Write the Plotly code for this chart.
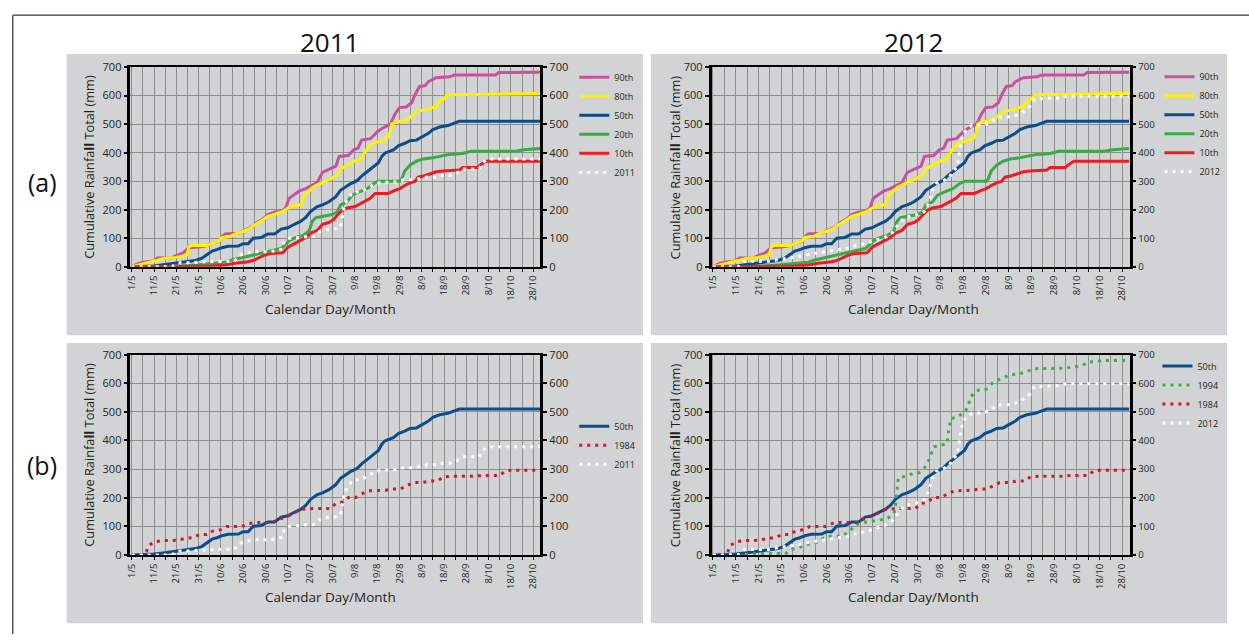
import plotly.graph_objects as go

W, H = 1249, 641

# ---------------- data ----------------
tick_days = list(range(0, 181, 5))
tick_labels = ["1/5", "", "11/5", "", "21/5", "", "31/5", "", "10/6", "", "20/6", "",
               "30/6", "", "10/7", "", "20/7", "", "30/7", "", "9/8", "", "19/8", "",
               "29/8", "", "8/9", "", "18/9", "", "28/9", "", "8/10", "", "18/10", "", "28/10"]

p90_day = [0, 3, 6, 10, 11.5, 18, 20, 22.5, 24, 25.5, 30, 33, 36, 39, 40.5, 42, 48, 50, 52, 54.5,
           56.5, 59, 61, 64, 67, 69, 70.5, 72, 75, 78, 80.5, 83, 85.5, 88.5, 91.5, 93, 97, 99.5,
           101.5, 103, 107, 110, 112, 116, 118, 120, 123, 125.5, 127, 129, 131.5, 133, 136.5,
           142.5, 144.5, 163, 164.5, 183]
p90_mm = [0, 12, 17, 20, 31, 32, 39, 47, 55, 67, 69, 73, 81, 89, 106, 115, 118, 126, 134, 143,
          157, 169, 183, 191, 194, 206, 240, 248, 265, 274, 285, 294, 331, 342, 353, 387, 390, 410,
          416, 444, 449, 473, 484, 501, 535, 558, 560, 575, 603, 632, 635, 649, 663,
          666, 672, 672, 681, 682]

p80_day = [0, 3.4, 6.4, 9.3, 11.5, 15, 19.7, 22.6, 24.8, 25.6, 27, 33.7, 36, 39, 40.4, 44, 46.3,
           48.5, 50.7, 53, 54.4, 56.6, 58.9, 61, 64, 67, 70, 73.6, 76, 77.3, 79.5, 81, 83.2, 85.5,
           89.2, 92.1, 93.6, 96.6, 99.5, 102.5, 104.7, 106.2, 109.1, 112.1, 114.3, 115.8, 116.5,
           119.5, 123.2, 124.7, 126.2, 128.4, 132.1, 134.3, 136.5, 138, 140.2, 141.7, 183]
p80_mm = [0, 7, 12.5, 18, 24, 30, 33, 37.5, 41, 69, 75, 75, 81, 90, 103, 106, 115,
          120, 126, 135, 143, 155, 166, 177, 183, 191, 206, 217, 217, 251, 266, 278, 287, 294,
          308, 322, 342, 356, 370, 376, 405, 422, 435, 444, 449, 469, 501,
          509, 513, 524, 535, 547, 549, 558, 560, 581, 590, 603, 607]

p50_day = [0, 10, 14, 19.7, 24, 28.5, 31.5, 33.7, 36, 38.2, 40.4, 43.3, 47.8, 50, 52.2, 54.4, 58.1,
           61, 64, 67, 70, 72.9, 75.9, 78.1, 80.3, 83.2, 85.5, 88.4, 91.4, 93.6, 95.8, 98, 101,
           103.2, 105.5, 108.4, 110.6, 112.1, 113.6, 117.3, 119.5, 122.4, 124.7, 127.6, 130.6,
           132.8, 135, 138, 141.7, 144.6, 146.8, 183]
p50_mm = [0, 3, 7, 12.5, 18, 22, 30, 41, 55, 60, 67, 72, 73, 81, 81, 100, 103,
          115, 115, 132, 137, 149, 160, 174, 195, 211, 217, 228, 245, 268, 280, 291, 302,
          319, 333, 353, 365, 387, 399, 410, 424, 433, 442, 444, 456,
          467, 481, 490, 495, 503, 510, 510]

p20_day = [0, 20, 30, 36, 41.9, 44.8, 49.2, 52.2, 56.6, 61, 64, 67, 68.5, 70.7, 73.6, 76.6, 79.5,
           81, 82.5, 86.2, 89.9, 92.1, 93.6, 96.6, 98.8, 101.7, 105.5, 108.4, 110.6, 120.2, 121,
           122.4, 124.7, 127.6, 130.6, 135, 139.5, 142.4, 148.3, 152, 172, 176, 183]
p20_mm = [0, 1, 7, 12.5, 16, 24, 32, 37.5, 47, 55, 60, 64, 75, 92, 103, 109, 126,
          160, 172, 177, 183, 192, 217, 228, 251, 262, 274, 291, 300, 300, 308,
          336, 356, 370, 378, 382, 390, 394, 397, 405, 405, 410, 415]

p10_day = [0, 30, 36, 41.9, 46.3, 52.2, 54.4, 56.6, 59.6, 62.6, 67.7, 70, 72.9, 75.9, 78.1, 80.3,
           83.2, 85.5, 88.4, 90.6, 92.1, 94.3, 96.6, 100.2, 103.2, 106.9, 109.1, 115, 118, 120.2,
           122.4, 124.7, 126.9, 128.4, 131.3, 133.5, 136.5, 139.5, 146.8, 148.3, 155, 156.5,
           158.7, 183]
p10_mm = [0, 1, 3, 6, 12.5, 18, 22, 30, 41, 47, 49, 69, 81, 92, 103, 118,
          128, 149, 155, 166, 181, 198, 206, 211, 223, 240, 257, 257, 268, 274,
          285, 294, 299, 314, 319, 325, 333, 336, 339, 348, 348, 359,
          370, 370]

y2011_day = [0, 18, 20.6, 27, 31, 42.8, 46, 48.6, 51, 54.4, 61.8, 65, 67.5, 68.4, 70.8, 78, 81.5,
             84, 87.3, 90.6, 93.6, 94.2, 95.5, 97.2, 98.8, 103, 105.4, 108, 111, 118.6, 122,
             125.2, 129.3, 132.6, 136, 139.2, 142.5, 145.8, 149, 155.7, 157.3, 159.8, 183]
y2011_mm = [0, 0, 14, 14, 17, 19, 20, 40, 48, 53, 53, 57, 62, 91, 100, 105, 106,
            123, 131, 131, 139, 165, 222, 239, 261, 263, 275, 286, 295, 298, 305,
            305, 309, 315, 315, 320, 320, 330, 343, 343, 366, 378, 378]

y2012_day = [0, 11, 13.7, 24.5, 28.6, 34.4, 37.7, 41, 45.2, 49.3, 54.3, 59.3, 63.4, 67.5, 71.7,
             75.8, 79.1, 81.6, 84.1, 87.4, 90.7, 93.2, 94.9, 96.5, 98.2, 101.5, 104, 105.6,
             107.3, 108.1, 108.9, 109.8, 111.4, 113.9, 118.9, 122.2, 124.7, 128, 131.3, 134.6,
             137.1, 139.6, 141.2, 145.4, 152, 155.3, 183]
y2012_mm = [0, 0, 19, 19, 25, 31, 36, 42, 48, 53, 59, 65, 76, 82, 93,
            104, 121, 150, 172, 178, 184, 195, 224, 269, 292, 303, 314, 337,
            348, 382, 428, 467, 479, 496, 496, 507, 524, 526, 526, 535,
            547, 564, 587, 590, 592, 598, 598]

y1994_day = [0, 10.4, 14.5, 21, 32, 34.4, 37.7, 41, 44.3, 47.6, 50, 56.7, 60, 62.5, 66.6, 73.2,
             76.5, 79, 79.8, 80.3, 80.7, 81, 81.5, 84.8, 88.1, 90.6, 93, 94.7, 95.9, 97.2, 100.5,
             103, 103.3, 103.8, 104.6, 107.1, 109.6, 112.1, 112.9, 114.5, 117, 120.3, 122.8,
             125.3, 127.8, 131.1, 134.4, 137.7, 141, 150.9, 155, 158.3, 161.7, 165, 169, 172.4, 183]
y1994_mm = [0, 0, 2, 5, 5, 19, 25, 36, 39, 53, 65, 65, 82, 105, 114, 122,
            127, 139, 150, 173, 213, 247, 270, 275, 285, 287, 304, 327, 349, 378, 384,
            389, 418, 446, 477, 480, 494, 514, 543, 566, 577, 580, 600,
            611, 619, 631, 632, 640, 651, 651, 653, 657, 660, 674, 676, 680, 680]

y1984_day = [0, 5, 6.3, 7.6, 10.4, 13.7, 20.3, 23.6, 27.8, 30.2, 33.6, 36.5, 39.8, 42.6, 49.3,
             52.6, 55.9, 63.3, 65.8, 69.1, 72.4, 75.7, 81.5, 88.9, 91.4, 94.2, 97.2, 100.5, 103,
             106.3, 113.7, 117, 120.3, 123.3, 126.1, 130.2, 133.6, 136.9, 139.7, 143.5, 153.4,
             157.5, 165, 167.4, 169.9, 183]
y1984_mm = [0, 0, 6, 33, 46, 50, 51, 57, 61, 71, 71, 84, 88, 99, 99,
            110, 113, 113, 124, 133, 145, 159, 162, 162, 179, 184, 201, 201, 213,
            224, 226, 230, 230, 241, 253, 253, 258, 258, 273, 275, 275,
            278, 278, 293, 296, 296]

# ---------------- styling ----------------
FONT = "Open Sans"
TXT = "#231F20"
PANEL = "#D1D3D4"
GRID = "#8E8E8E"
C90, C80, C50, C20, C10 = "#C9509B", "#FFF200", "#0B4D8C", "#3AAA48", "#ED1C24"
C84, C94, CWH = "#D2142E", "#3DAE4B", "#FFFFFF"
DOT = "3px,5px"


def px_x(p):
    return p / W


def px_y(p):
    return 1 - p / H


# plot areas in pixels: (left, right, top, bottom)
panels = {
    "A11": (125, 537, 60.5, 265),
    "A12": (709, 1129, 60.5, 265),
    "B11": (125, 537, 355, 560),
    "B12": (709, 1129, 355, 560),
}
axis_ids = {"A11": ("x", "y", "y5"), "A12": ("x2", "y2", "y6"),
            "B11": ("x3", "y3", "y7"), "B12": ("x4", "y4", "y8")}
legend_ids = {"A11": "legend", "A12": "legend2", "B11": "legend3", "B12": "legend4"}

fig = go.Figure()


def add(panel, name, days, mm, color, dotted=False):
    xa, ya, _ = axis_ids[panel]
    fig.add_trace(go.Scatter(
        x=days, y=mm, name=name, mode="lines", xaxis=xa, yaxis=ya,
        legend=legend_ids[panel],
        line=dict(color=color, width=3, dash=DOT if dotted else "solid"),
        hoverinfo="skip"))


for pnl, yr_name, yr_day, yr_mm in [("A11", "2011", y2011_day, y2011_mm),
                                    ("A12", "2012", y2012_day, y2012_mm)]:
    add(pnl, "90th", p90_day, p90_mm, C90)
    add(pnl, "80th", p80_day, p80_mm, C80)
    add(pnl, "50th", p50_day, p50_mm, C50)
    add(pnl, "20th", p20_day, p20_mm, C20)
    add(pnl, "10th", p10_day, p10_mm, C10)
    add(pnl, yr_name, yr_day, yr_mm, CWH, dotted=True)

add("B11", "50th", p50_day, p50_mm, C50)
add("B11", "1984", y1984_day, y1984_mm, C84, dotted=True)
add("B11", "2011", y2011_day, y2011_mm, CWH, dotted=True)

add("B12", "50th", p50_day, p50_mm, C50)
add("B12", "1994", y1994_day, y1994_mm, C94, dotted=True)
add("B12", "1984", y1984_day, y1984_mm, C84, dotted=True)
add("B12", "2012", y2012_day, y2012_mm, CWH, dotted=True)

# empty traces so the right-hand axes get drawn
for pnl, (xa, ya, yr) in axis_ids.items():
    fig.add_trace(go.Scatter(x=[], y=[], xaxis=xa, yaxis=yr, showlegend=False,
                             hoverinfo="skip"))

layout = dict(
    width=W, height=H, autosize=False,
    margin=dict(l=0, r=0, t=0, b=0, pad=0),
    paper_bgcolor="white", plot_bgcolor=PANEL,
    font=dict(family=FONT, color=TXT),
    showlegend=True,
)

for pnl, (l, r, t, b) in panels.items():
    xa, ya, yr = axis_ids[pnl]
    xkey = "xaxis" + xa[1:]
    ykey = "yaxis" + ya[1:]
    yrkey = "yaxis" + yr[1:]
    right_size = 11 if pnl.endswith("11") else 9.6
    layout[xkey] = dict(
        domain=[px_x(l), px_x(r)], anchor=ya, range=[-0.6, 183.2],
        tickmode="array", tickvals=tick_days, ticktext=tick_labels, tickangle=-90,
        ticks="outside", ticklen=3, tickwidth=1.2, tickcolor="black",
        showline=True, linecolor="black", linewidth=2, mirror=True,
        showgrid=True, gridcolor=GRID, gridwidth=1, zeroline=False,
        tickfont=dict(size=9.5, family=FONT, color=TXT), fixedrange=True)
    layout[ykey] = dict(
        domain=[px_y(b), px_y(t)], anchor=xa, range=[0, 700], dtick=100, tick0=0,
        ticks="outside", ticklen=4, tickwidth=1.5, tickcolor="black",
        showline=True, linecolor="black", linewidth=2.5,
        showgrid=True, gridcolor=GRID, gridwidth=1, zeroline=False,
        tickfont=dict(size=11, family=FONT, color=TXT), fixedrange=True)
    layout[yrkey] = dict(
        overlaying=ya, anchor=xa, side="right", range=[0, 700], dtick=100, tick0=0,
        ticks="outside", ticklen=4, tickwidth=1.5, tickcolor="black",
        showline=True, linecolor="black", linewidth=2.5,
        showgrid=False, zeroline=False,
        tickfont=dict(size=right_size, family=FONT, color=TXT), fixedrange=True)

legend_pos = {"legend": (571, 56), "legend2": (1159, 55.5),
              "legend3": (571, 413.3), "legend4": (1157, 351.8)}
for key, (lx, ly) in legend_pos.items():
    layout[key] = dict(x=px_x(lx), y=px_y(ly), xanchor="left", yanchor="top",
                       bgcolor="rgba(0,0,0,0)", borderwidth=0, itemwidth=30,
                       tracegroupgap=0, font=dict(size=9, family=FONT, color=TXT))

fig.update_layout(**layout)

# grey panel backgrounds and the outer frame
shapes = []
for (x0, x1, y0, y1) in [(61, 640, 47, 335), (648, 1227, 47, 335),
                         (61, 640, 343, 630), (648, 1227, 343, 630)]:
    shapes.append(dict(type="rect", xref="paper", yref="paper", layer="below",
                       x0=px_x(x0), x1=px_x(x1), y0=px_y(y1), y1=px_y(y0),
                       fillcolor=PANEL, line=dict(width=0)))
shapes.append(dict(type="line", xref="paper", yref="paper", x0=px_x(7), x1=1.0,
                   y0=px_y(7.3), y1=px_y(7.3), line=dict(color="#3A3A3A", width=1.3)))
shapes.append(dict(type="line", xref="paper", yref="paper", x0=px_x(6.8), x1=px_x(6.8),
                   y0=0.0, y1=px_y(7.3), line=dict(color="#3A3A3A", width=1.3)))
fig.update_layout(shapes=shapes)

# titles and axis titles
ytitle = "Cumulative Rainfa<b>ll</b> Total (mm)"
ann = []
for pnl, (l, r, t, b) in panels.items():
    cx = 83.3 if pnl.endswith("11") else 671.7
    ann.append(dict(text=ytitle, x=px_x(cx), y=px_y((t + b) / 2), xref="paper", yref="paper",
                    textangle=-90, showarrow=False, xanchor="center", yanchor="middle",
                    font=dict(size=12.8, family=FONT, color=TXT)))
    tx = 326 if pnl.endswith("11") else 912
    ty = 308 if pnl.startswith("A") else 603
    ann.append(dict(text="Calendar Day/Month", x=px_x(tx), y=px_y(ty), xref="paper",
                    yref="paper", showarrow=False, xanchor="center", yanchor="middle",
                    font=dict(size=13.5, family=FONT, color=TXT)))
for txt, x, y, s in [("2011", 325, 35, 26), ("2012", 912, 35, 26),
                     ("(a)", 37, 178, 25), ("(b)", 36, 468, 25)]:
    ann.append(dict(text=txt, x=px_x(x), y=px_y(y), xref="paper", yref="paper",
                    showarrow=False, xanchor="center", yanchor="middle",
                    font=dict(size=s, family=FONT, color="#111111")))
fig.update_layout(annotations=ann)

fig.write_html("out.html", include_plotlyjs=True, config={"displayModeBar": False},
               post_script="document.body.style.margin='0';document.body.style.padding='0';")
